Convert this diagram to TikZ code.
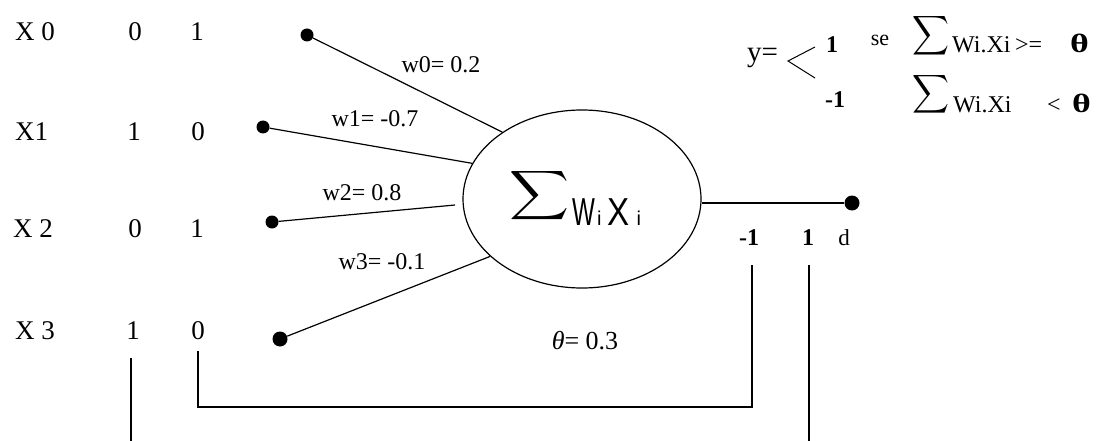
\documentclass[tikz,border=0pt]{standalone}
\usepackage{fontspec}
\usepackage{graphicx}
\setmainfont{Liberation Serif}
\newfontfamily\sansf{Liberation Sans}
\usetikzlibrary{shapes.geometric}
\newcommand{\bth}{\scalebox{1.5}[1.1]{\textbf{θ}}}
\begin{document}
\begin{tikzpicture}[x=1pt,y=-1pt,
  lbl/.style={inner sep=0pt, font=\fontsize{27}{27}\selectfont},
  wlbl/.style={inner sep=0pt, font=\fontsize{24}{24}\selectfont},
  frm/.style={inner sep=0pt, font=\fontsize{22}{22}\selectfont},
  bnum/.style={inner sep=0pt, font=\fontsize{24}{24}\selectfont\bfseries},
  dot/.style={circle, fill=black, inner sep=0pt, minimum size=13pt},
  wire/.style={line width=1.2pt},
  sig/.style={inner sep=0pt}
  ]
\useasboundingbox (0,0) rectangle (1105,441);
% input labels
\node[lbl, anchor=west] (x0) at (15,32) {X 0};
\node[lbl, anchor=west] (x1) at (15,132) {X1};
\node[lbl, anchor=west] (x2) at (13,229) {X 2};
\node[lbl, anchor=west] (x3) at (15,331) {X 3};
\node[lbl] (x0a) at (135,32) {0};
\node[lbl] (x1a) at (134,132) {1};
\node[lbl] (x2a) at (135,229) {0};
\node[lbl] (x3a) at (133,331) {1};
\node[lbl] (x0b) at (197,32) {1};
\node[lbl] (x1b) at (198,132) {0};
\node[lbl] (x2b) at (197,229) {1};
\node[lbl] (x3b) at (198,331) {0};
% dots
\node[dot] (d0) at (307,35) {};
\node[dot] (d1) at (263,127) {};
\node[dot] (d2) at (272,222) {};
\node[dot, minimum size=15pt] (d3) at (280,339) {};
% neuron
\node[ellipse, draw, wire, minimum width=238pt, minimum height=178pt, inner sep=0pt] (neuron) at (582,199) {};
\node[sig] (bigsum) at (539,195.5) {\resizebox*{60pt}{55pt}{$\displaystyle\sum$}};
\node[inner sep=0pt, anchor=base west] (wx) at (572,225) {\sansf\fontsize{39}{39}\selectfont\scalebox{0.62}[1]{W}\fontsize{20}{20}\selectfont\hspace{2pt}i\hspace{6pt}\fontsize{39}{39}\selectfont\scalebox{0.85}[1]{X}\fontsize{20}{20}\selectfont\hspace{7pt}i};
% weighted connections
\coordinate (w2e) at (455,205);
\draw[wire] (d0) -- (neuron.140.5);
\draw[wire] (d1) -- (neuron.162.7);
\draw[wire] (d2) -- (w2e);
\draw[wire] (d3) -- (neuron.212);
\node[wlbl] (w0) at (441,65) {w0= 0.2};
\node[wlbl] (w1) at (375,119) {w1= -0.7};
\node[wlbl] (w2) at (362,193) {w2= 0.8};
\node[wlbl] (w3) at (382,262) {w3= -0.1};
\node[wlbl, font=\fontsize{26}{26}\selectfont] (theta) at (585,341) {\textit{θ}= 0.3};
% output
\node[dot, minimum size=15pt] (dout) at (852,203) {};
\draw[wire] (dout) -- (dout -| neuron.east);
\node[bnum] (om) at (749,238) {-1};
\node[bnum] (o1) at (808,238) {1};
\node[lbl, font=\fontsize{23}{23}\selectfont] (od) at (844,238) {d};
% bottom lines
\coordinate (brk) at (0,407);
\coordinate (bot) at (0,441);
\draw[wire] ([yshift=-11pt]x3b.south) -- (x3b.south |- brk) -| ([xshift=3pt,yshift=-19pt]om.south);
\draw[wire] ([xshift=-2pt,yshift=-18pt]x3a.south) -- ([xshift=-2pt]x3a.south |- bot);
\draw[wire] ([xshift=1pt,yshift=-19pt]o1.south) -- ([xshift=1pt]o1.south |- bot);
% activation formula
\node[frm, font=\fontsize{29}{29}\selectfont, anchor=base west] (yeq) at (747,62) {y=};
\coordinate (lt) at (788,61);
\draw[line width=1pt] (815,47) -- (lt) -- (815,78);
\node[bnum] (f1) at (832,45) {1};
\node[bnum] (fm1) at (835,100) {-1};
\node[frm] (se) at (880,40) {se};
\node[sig] (s1) at (931,35.5) {\resizebox*{37pt}{44pt}{$\displaystyle\sum$}};
\node[sig] (s2) at (931,94) {\resizebox*{37pt}{43pt}{$\displaystyle\sum$}};
\node[frm, font=\fontsize{24}{24}\selectfont, anchor=base west] (c1) at (952,53) {\makebox[63pt][l]{Wi.Xi}\makebox[55pt][l]{>=}\bth};
\node[frm, font=\fontsize{24}{24}\selectfont, anchor=base west] (c2) at (953,113) {\makebox[94pt][l]{Wi.Xi}\makebox[25pt][l]{<}\bth};
\end{tikzpicture}
\end{document}
